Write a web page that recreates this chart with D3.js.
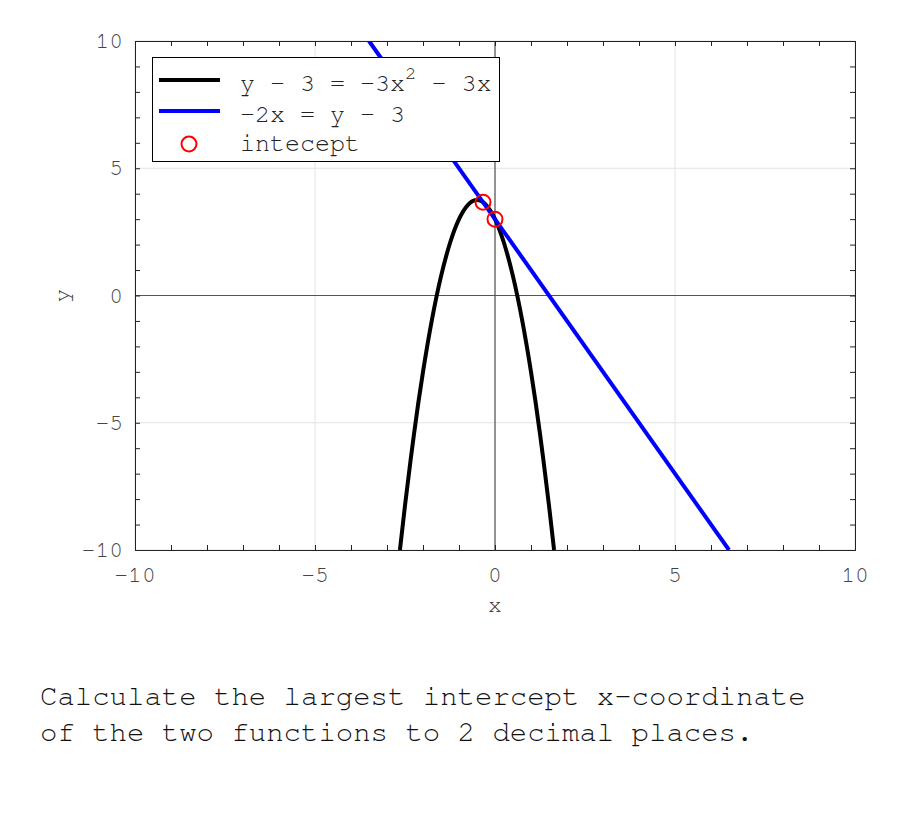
<!DOCTYPE html>
<html><head><meta charset="utf-8">
<script src="https://cdn.jsdelivr.net/npm/d3@7"></script>
<style>body{margin:0;background:#fff}svg{display:block}</style>
</head><body><svg id="c" width="900" height="825"></svg>
<script>
// parabola y = -3x^2 - 3x + 3, values read/checked from the picture
const parabolaX = [-2.641,-2.5,-2.25,-2,-1.75,-1.5,-1.25,-1,-0.75,-0.5,-0.25,0,0.25,0.5,0.75,1,1.25,1.5,1.641];
const parabolaY = [-10,-8.25,-5.4375,-3,-0.9375,0.75,2.0625,3,3.5625,3.75,3.5625,3,2.0625,0.75,-0.9375,-3,-5.4375,-8.25,-10];
const lineX = [-3.5, 6.5];
const lineY = [10, -10];
const interceptX = [-0.3333, 0];
const interceptY = [3.6667, 3];
const xTicks = [-10,-5,0,5,10];
const yTicks = [-10,-5,0,5,10];
const legendLabels = ["y - 3 = -3x", "-2x = y - 3", "intecept"];
const question = ["Calculate the largest intercept x-coordinate","of the two functions to 2 decimal places."];

const svg = d3.select("#c");
const L=135,R=855,T=41,B=550;
const x = d3.scaleLinear().domain([-10,10]).range([L,R]);
const y = d3.scaleLinear().domain([-10,10]).range([B,T]);
const font = "'FreeMono','Nimbus Mono PS','Nimbus Mono L','Courier New',Courier,'Liberation Mono','DejaVu Sans Mono',monospace";

// grid
const g = svg.append("g");
g.selectAll(".gx").data(xTicks).enter().append("line")
  .attr("x1",d=>x(d)).attr("x2",d=>x(d)).attr("y1",T).attr("y2",B)
  .attr("stroke","#e3e3e3").attr("stroke-width",1);
g.selectAll(".gy").data(yTicks).enter().append("line")
  .attr("y1",d=>y(d)).attr("y2",d=>y(d)).attr("x1",L).attr("x2",R)
  .attr("stroke","#e3e3e3").attr("stroke-width",1);
// zero axes
svg.append("line").attr("x1",x(0)).attr("x2",x(0)).attr("y1",T).attr("y2",B).attr("stroke","#555").attr("stroke-width",1.2);
svg.append("line").attr("y1",y(0)).attr("y2",y(0)).attr("x1",L).attr("x2",R).attr("stroke","#555").attr("stroke-width",1.2);

// axes with inward ticks
const minor = d3.range(-10,11,1);
const axB = d3.axisBottom(x).tickValues(minor).tickSize(-5).tickFormat("");
const axT = d3.axisTop(x).tickValues(minor).tickSize(-5).tickFormat("");
const axLft = d3.axisLeft(y).tickValues(minor).tickSize(-5).tickFormat("");
const axRt = d3.axisRight(y).tickValues(minor).tickSize(-5).tickFormat("");
[[axB,`translate(0,${B})`],[axT,`translate(0,${T})`],[axLft,`translate(${L},0)`],[axRt,`translate(${R},0)`]].forEach(([a,t])=>{
  const s=svg.append("g").attr("transform",t).call(a);
  s.select(".domain").attr("stroke","#222").attr("stroke-width",1);
  s.selectAll(".tick line").attr("stroke","#222");
});
// tick labels
svg.selectAll(".xl").data(xTicks).enter().append("text")
  .attr("x",d=>x(d)).attr("y",B+32).attr("text-anchor","middle")
  .attr("font-family",font).attr("font-size",23).attr("fill","#444").text(d=>d);
svg.selectAll(".yl").data(yTicks).enter().append("text")
  .attr("x",L-12).attr("y",d=>y(d)+7).attr("text-anchor","end")
  .attr("font-family",font).attr("font-size",23).attr("fill","#444").text(d=>d);
svg.append("text").attr("x",x(0)).attr("y",612).attr("text-anchor","middle")
  .attr("font-family",font).attr("font-size",23).attr("fill","#444").text("x");
svg.append("text").attr("transform",`translate(69,${y(0)}) rotate(-90)`).attr("text-anchor","middle")
  .attr("font-family",font).attr("font-size",23).attr("fill","#444").text("y");

// clip
svg.append("clipPath").attr("id","clip").append("rect").attr("x",L).attr("y",T).attr("width",R-L).attr("height",B-T);
const plot = svg.append("g").attr("clip-path","url(#clip)");
const lineGen = d3.line().x(d=>x(d[0])).y(d=>y(d[1])).curve(d3.curveNatural);
plot.append("path").datum(parabolaX.map((v,i)=>[v,parabolaY[i]]))
  .attr("d",lineGen).attr("fill","none").attr("stroke","#000").attr("stroke-width",4);
plot.append("path").datum(lineX.map((v,i)=>[v,lineY[i]]))
  .attr("d",d3.line().x(d=>x(d[0])).y(d=>y(d[1]))).attr("fill","none").attr("stroke","#0000ff").attr("stroke-width",4);
svg.selectAll(".pt").data(interceptX.map((v,i)=>[v,interceptY[i]])).enter().append("circle")
  .attr("cx",d=>x(d[0])).attr("cy",d=>y(d[1])).attr("r",7.5)
  .attr("fill","none").attr("stroke","#ff0000").attr("stroke-width",2);

// legend
const lg = svg.append("g");
lg.append("rect").attr("x",152.5).attr("y",57.5).attr("width",347).attr("height",104)
  .attr("fill","#fff").attr("stroke","#000").attr("stroke-width",1);
const rows=[83,114,144];
lg.append("line").attr("x1",159).attr("x2",220).attr("y1",rows[0]-3).attr("y2",rows[0]-3).attr("stroke","#000").attr("stroke-width",4);
lg.append("line").attr("x1",159).attr("x2",220).attr("y1",rows[1]-3).attr("y2",rows[1]-3).attr("stroke","#0000ff").attr("stroke-width",4);
lg.append("circle").attr("cx",189).attr("cy",rows[2]).attr("r",7.5).attr("fill","none").attr("stroke","#ff0000").attr("stroke-width",2);
const t0 = lg.append("text").attr("x",240).attr("y",rows[0]+8).attr("font-family",font).attr("font-size",25).attr("fill","#222");
t0.append("tspan").text(legendLabels[0]);
t0.append("tspan").attr("dy",-12).attr("font-size",19).text("2");
t0.append("tspan").attr("dy",12).text(" - 3x");
lg.append("text").attr("x",240).attr("y",rows[1]+8).attr("font-family",font).attr("font-size",25).attr("fill","#222").text(legendLabels[1]);
lg.append("text").attr("x",240).attr("y",rows[2]+7).attr("font-family",font).attr("font-size",25).attr("fill","#222").text(legendLabels[2]);

// question
svg.selectAll(".q").data(question).enter().append("text")
  .attr("x",40).attr("y",(d,i)=>705+i*36).attr("font-family",font).attr("font-size",29).attr("fill","#111")
  .attr("xml:space","preserve").text(d=>d);
</script></body></html>
